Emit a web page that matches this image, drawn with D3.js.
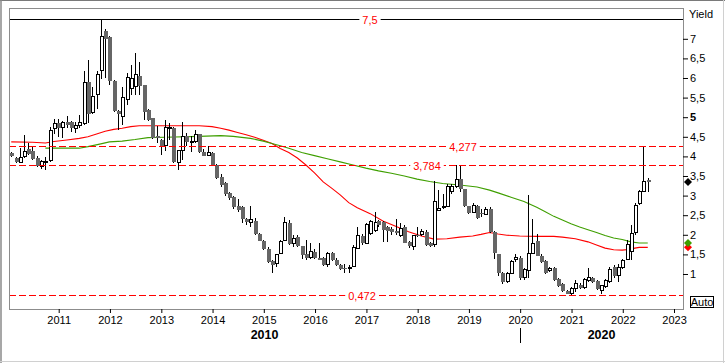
<!DOCTYPE html>
<html><head><meta charset="utf-8">
<script src="https://cdn.jsdelivr.net/npm/d3@7"></script>
<style>
body{margin:0;background:#fff}
svg{display:block}
text{font-family:"Liberation Sans",Arial,sans-serif}
</style>
</head><body>
<svg id="c" width="725" height="363"></svg>
<script>
// ---------- DATA ----------
const firstMonth = [2010, 0];   // Jan 2010, monthly candles
const open = [4.09,3.97,3.84,3.99,4.18,4.14,3.95,3.75,3.87,3.89,4.72,4.85,4.74,4.88,4.87,4.72,4.78,4.83,5.9,5.13,
5.58,6.19,7.2,7.05,5.93,5.16,5.03,5.46,5.74,5.78,6.05,5.82,5.18,4.97,4.51,4.42,4.27,4.72,4.72,3.84,
4.15,4.52,4.36,4.38,4.56,4.12,4.03,4.09,3.78,3.48,3.31,3.07,2.97,2.74,2.72,2.4,2.32,2.35,2.02,1.85,
1.63,1.34,1.26,1.53,1.86,2.31,1.78,1.95,1.71,1.51,1.42,1.56,1.4,1.42,1.23,1.53,1.36,1.23,1.16,1.14,
1.19,1.65,1.97,1.78,2.04,2.1,2.35,2.33,2.2,2.14,2.1,1.99,2.2,1.82,1.71,2.0,2.02,2.08,1.8,1.74,
2.63,2.7,2.72,3.11,3.22,3.42,3.17,2.73,2.57,2.73,2.56,2.53,2.67,2.08,1.5,1.02,0.8,1.02,1.37,1.42,
0.91,1.1,1.53,1.84,1.46,1.34,1.08,1.15,0.87,0.75,0.57,0.51,0.62,0.73,0.66,0.83,0.91,0.83,0.59,0.67,
0.8,1.19,0.96,1.16,1.38,1.57,2.05,2.79,3.1,3.4];
const high = [4.12,3.98,4.22,4.55,4.33,4.25,4.0,3.9,3.99,4.75,4.95,4.95,4.9,5.03,4.9,4.89,5.06,6.18,6.46,5.78,
6.18,7.5,7.25,7.07,5.95,5.18,5.78,6.12,6.33,6.63,6.42,5.82,5.2,4.98,4.78,4.44,4.93,4.84,4.74,4.16,
4.88,4.59,4.52,4.67,4.58,4.2,4.27,4.1,3.8,3.54,3.35,3.1,3.0,2.92,2.74,2.42,2.74,2.42,2.04,1.86,
1.7,1.36,1.52,1.86,2.45,2.38,2.0,2.0,1.72,1.87,1.8,1.63,1.78,1.44,1.55,1.55,1.4,1.25,1.25,1.23,
1.74,2.21,2.02,2.3,2.37,2.59,2.38,2.35,2.22,2.2,2.4,2.29,2.25,1.84,2.0,2.2,2.15,2.12,1.82,3.36,
3.14,3.05,3.3,3.3,3.77,3.784,3.18,2.74,2.8,2.75,2.65,2.7,2.7,2.1,1.52,1.04,1.05,1.35,1.5,1.45,
1.15,3.01,2.4,2.02,1.5,1.36,1.17,1.17,0.9,0.77,0.6,0.66,0.85,0.78,0.9,1.15,0.93,0.85,0.73,0.88,
1.17,1.22,1.25,1.38,1.87,2.25,2.8,3.15,4.277,3.46];
const low = [3.98,3.84,3.82,3.95,4.04,3.91,3.73,3.68,3.65,3.85,4.57,4.5,4.46,4.72,4.62,4.59,4.72,4.8,4.86,5.09,
5.2,5.98,6.0,5.81,5.14,4.67,4.8,5.31,5.57,5.57,5.57,4.93,4.9,4.44,4.33,4.04,4.15,4.42,3.82,3.65,
3.91,4.27,4.12,4.35,4.08,4.0,4.02,3.76,3.42,3.23,3.0,2.9,2.66,2.57,2.31,2.25,2.2,2.0,1.83,1.6,
1.27,1.02,1.18,1.5,1.84,1.75,1.7,1.7,1.38,1.36,1.39,1.38,1.37,1.2,1.18,1.34,1.2,1.09,1.03,1.03,
1.17,1.63,1.74,1.76,2.0,2.08,2.2,1.82,1.82,2.0,2.0,1.95,1.78,1.66,1.6,1.95,1.97,1.72,1.69,1.7,
2.6,2.65,2.7,3.05,3.2,3.1,2.7,2.52,2.55,2.4,2.45,2.5,2.05,1.38,0.95,0.75,0.78,1.0,1.3,0.85,
0.85,0.89,1.5,1.45,1.28,1.0,1.05,0.82,0.66,0.55,0.5,0.472,0.55,0.62,0.62,0.8,0.77,0.59,0.49,0.65,
0.78,0.9,0.8,1.12,1.35,1.36,2.0,2.75,3.08,3.1];
const close = [4.01,3.85,3.98,4.13,4.07,3.93,3.76,3.86,3.88,4.67,4.83,4.72,4.86,4.8,4.72,4.78,4.87,5.88,5.09,5.54,
6.1,7.07,7.0,5.92,5.16,5.09,5.51,6.02,5.99,6.08,5.8,5.14,4.93,4.46,4.48,4.27,4.74,4.73,3.85,4.14,
4.52,4.38,4.38,4.56,4.12,4.01,4.09,3.78,3.44,3.27,3.04,2.93,2.72,2.63,2.4,2.32,2.38,2.02,1.85,1.65,
1.31,1.23,1.5,1.84,2.31,1.77,1.91,1.71,1.48,1.4,1.58,1.4,1.38,1.23,1.53,1.36,1.23,1.14,1.14,1.17,
1.67,1.99,1.78,2.25,2.33,2.31,2.25,2.12,2.1,2.08,2.04,2.17,1.8,1.71,1.99,1.98,2.08,1.74,1.71,2.84,
2.67,2.73,3.22,3.22,3.42,3.16,2.74,2.55,2.76,2.44,2.53,2.65,2.08,1.53,1.02,0.8,1.02,1.31,1.42,0.91,
1.11,1.53,1.77,1.46,1.31,1.03,1.15,0.85,0.7,0.57,0.49,0.63,0.76,0.65,0.85,0.91,0.8,0.61,0.71,0.83,
1.12,0.96,1.17,1.34,1.74,2.04,2.76,3.1,3.35,3.35];
// moving averages (candle number, value)
const maRedIdx = [1,6,9,11,14,17,19,21,23,25,27,29,31,35,45,48,50,52,54,56,58,60,62,64,66,68,70,72,74,76,78,80,82,85,88,91,94,97,100,103,106,109,111,113,115,117,120,124,128,130,133,136,138,140,142,144,146,147,148,150];
const maRedVal = [4.37,4.36,4.34,4.38,4.42,4.46,4.50,4.57,4.64,4.69,4.72,4.76,4.78,4.78,4.78,4.76,4.72,4.67,4.61,4.55,4.49,4.41,4.33,4.2,4.1,3.96,3.78,3.58,3.35,3.19,3.02,2.82,2.69,2.54,2.35,2.22,2.08,1.97,1.89,1.9,1.94,1.97,2.01,2.06,2.02,1.99,1.97,1.96,1.96,1.94,1.9,1.82,1.74,1.66,1.62,1.61,1.63,1.66,1.68,1.68];
const maGreenIdx = [9,17,19,22,24,27,30,33,37,45,50,53,57,60,62,64,66,69,72,75,78,81,84,87,90,93,96,99,102,106,110,113,115,118,121,124,126,128,130,132,134,136,138,140,142,144,146,148,150];
const maGreenVal = [4.21,4.21,4.25,4.32,4.37,4.39,4.43,4.48,4.49,4.51,4.53,4.51,4.46,4.39,4.33,4.27,4.21,4.1,4.02,3.94,3.86,3.78,3.7,3.63,3.57,3.5,3.42,3.36,3.31,3.27,3.22,3.14,3.07,2.96,2.85,2.7,2.59,2.47,2.38,2.28,2.2,2.13,2.06,1.98,1.92,1.88,1.82,1.79,1.79];
const levelValues = [7.5, 4.277, 3.784, 0.472];
const levelLabels = ["7,5", "4,277", "3,784", "0,472"];
const yTickValues = [1,1.5,2,2.5,3,3.5,4,4.5,5,5.5,6,6.5,7];
const yearTicks = [2011,2012,2013,2014,2015,2016,2017,2018,2019,2020,2021,2022,2023];
const decades = [2010, 2020];
const axisTitle = "Yield";

// ---------- LAYOUT ----------
const W = 725, H = 363;
const L = 9, R = 683, T = 8.5, B = 309;
const svg = d3.select("#c");
const x = d3.scaleTime().domain([new Date(2010,0,12), new Date(2023,2,6)]).range([L, R]);
const y = d3.scaleLinear().domain([0.107, 7.773]).range([B, T]);
const dateOf = i => new Date(firstMonth[0], firstMonth[1] + i, 28);
const fmt = v => String(v).replace(".", ",");

// outer frame
svg.append("rect").attr("x",0).attr("y",0).attr("width",W).attr("height",H).attr("fill","#fff");
svg.append("line").attr("x1",0).attr("x2",W).attr("y1",0.5).attr("y2",0.5).attr("stroke","#7a7a7a");
svg.append("line").attr("x1",1).attr("x2",1).attr("y1",0).attr("y2",H).attr("stroke","#8a8a8a").attr("stroke-width",1.5);
svg.append("line").attr("x1",0).attr("x2",W).attr("y1",361.5).attr("y2",361.5).attr("stroke","#d0d0d0");
svg.append("line").attr("x1",723.5).attr("x2",723.5).attr("y1",0).attr("y2",H).attr("stroke","#d0d0d0");

const clipId = "plotclip";
svg.append("clipPath").attr("id", clipId).append("rect").attr("x",L).attr("y",T).attr("width",R-L).attr("height",B-T);
const plot = svg.append("g").attr("clip-path", `url(#${clipId})`);

// moving averages
const idxLine = d3.line().x(d => x(dateOf(d[0]-1))).y(d => y(d[1]));
plot.append("path").datum(maRedIdx.map((n,i)=>[n, maRedVal[i]]))
  .attr("d", idxLine).attr("fill","none").attr("stroke","#ff0000").attr("stroke-width",1.1);
plot.append("path").datum(maGreenIdx.map((n,i)=>[n, maGreenVal[i]]))
  .attr("d", idxLine).attr("fill","none").attr("stroke","#3f9f00").attr("stroke-width",1.1);

// candles
const candles = open.map((o,i)=>({d: dateOf(i), o, h: high[i], l: low[i], c: close[i]}));
const cg = plot.append("g").attr("shape-rendering","crispEdges");
candles.forEach(k => {
  const cx = Math.round(x(k.d)) + 0.5;
  cg.append("line").attr("x1",cx).attr("x2",cx).attr("y1",y(k.h)).attr("y2",y(k.l)).attr("stroke","#000");
  const top = y(Math.max(k.o,k.c)), bot = y(Math.min(k.o,k.c));
  if (k.c >= k.o) {
    cg.append("rect").attr("x",cx-1.5).attr("y",top).attr("width",3).attr("height",Math.max(1,bot-top))
      .attr("fill","#fff").attr("stroke","#000");
  } else {
    cg.append("rect").attr("x",cx-2).attr("y",top).attr("width",4).attr("height",Math.max(1.5,bot-top))
      .attr("fill","#666");
  }
});

// level lines with labels
const labelX = [370, 463, 427, 362];
levelValues.forEach((v,i) => {
  const yy = Math.round(y(v)) + 0.5;
  const solid = i === 0;
  plot.append("line").attr("x1",L).attr("x2",R).attr("y1",yy).attr("y2",yy)
    .attr("stroke", solid ? "#000" : "#ff0000").attr("stroke-width",1)
    .attr("stroke-dasharray", solid ? null : "7,3").attr("shape-rendering","crispEdges");
  const t = plot.append("text").attr("x",labelX[i]).attr("y",yy+4).attr("text-anchor","middle")
    .attr("font-size",11).attr("fill","#ff0000").text(levelLabels[i]);
  const bb = t.node().getBBox();
  plot.insert("rect", () => t.node()).attr("x",bb.x-3).attr("y",yy-3).attr("width",bb.width+6).attr("height",6).attr("fill","#fff");
});

// plot frame
svg.append("rect").attr("x",L+0.5).attr("y",T).attr("width",R-L-0.5).attr("height",B-T+0.5)
  .attr("fill","none").attr("stroke","#8c8c8c").attr("shape-rendering","crispEdges");

// right axis
const ya = svg.append("g").attr("transform",`translate(${R},0)`)
  .call(d3.axisRight(y).tickValues(yTickValues).tickSize(5).tickPadding(2).tickFormat(fmt));
ya.select(".domain").remove();
ya.selectAll("text").attr("font-size",11).attr("fill","#000").style("font-family",'"Liberation Sans",Arial,sans-serif')
  .attr("font-weight", d => d === 5 ? "bold" : null);
ya.selectAll("line").attr("stroke","#000");
svg.append("text").attr("x",689).attr("y",18).attr("font-size",11).attr("fill","#000").text(axisTitle);

// bottom axis
const xa = svg.append("g").attr("transform",`translate(0,${B})`)
  .call(d3.axisBottom(x).tickValues(yearTicks.map(yr => new Date(yr,0,1))).tickSize(4).tickPadding(3)
  .tickFormat(d3.timeFormat("%Y")));
xa.select(".domain").remove();
xa.selectAll("text").attr("font-size",11).attr("fill","#000").style("font-family",'"Liberation Sans",Arial,sans-serif');
xa.selectAll("line").attr("stroke","#000");

// decade labels
decades.forEach(dc => {
  const x0 = Math.max(L, x(new Date(dc,0,1))), x1 = Math.min(R, x(new Date(dc+10,0,1)));
  svg.append("text").attr("x",(x0+x1)/2).attr("y",339).attr("text-anchor","middle")
    .attr("font-size",12.5).attr("font-weight","bold").attr("fill","#000").text(String(dc));
  const xd = x(new Date(dc,0,1));
  if (xd > L && xd < R) {
    svg.append("line").attr("x1",Math.round(xd)+0.5).attr("x2",Math.round(xd)+0.5).attr("y1",328).attr("y2",343)
      .attr("stroke","#000").attr("shape-rendering","crispEdges");
  }
});

// last-value markers
const diamond = (cy, color) => svg.append("path")
  .attr("d", `M688,${cy-4}L692,${cy}L688,${cy+4}L684,${cy}Z`).attr("fill", color);
diamond(y(maRedVal[maRedVal.length-1]), "#ff0000");
diamond(y(maGreenVal[maGreenVal.length-1]), "#3f9f00");
diamond(y(close[close.length-1]), "#000");

// Auto box
svg.append("rect").attr("x",690.5).attr("y",296.5).attr("width",23).attr("height",11)
  .attr("fill","#fff").attr("stroke","#000").attr("shape-rendering","crispEdges");
svg.append("text").attr("x",702).attr("y",306).attr("text-anchor","middle").attr("font-size",11).attr("fill","#000").text("Auto");
</script>
</body></html>
